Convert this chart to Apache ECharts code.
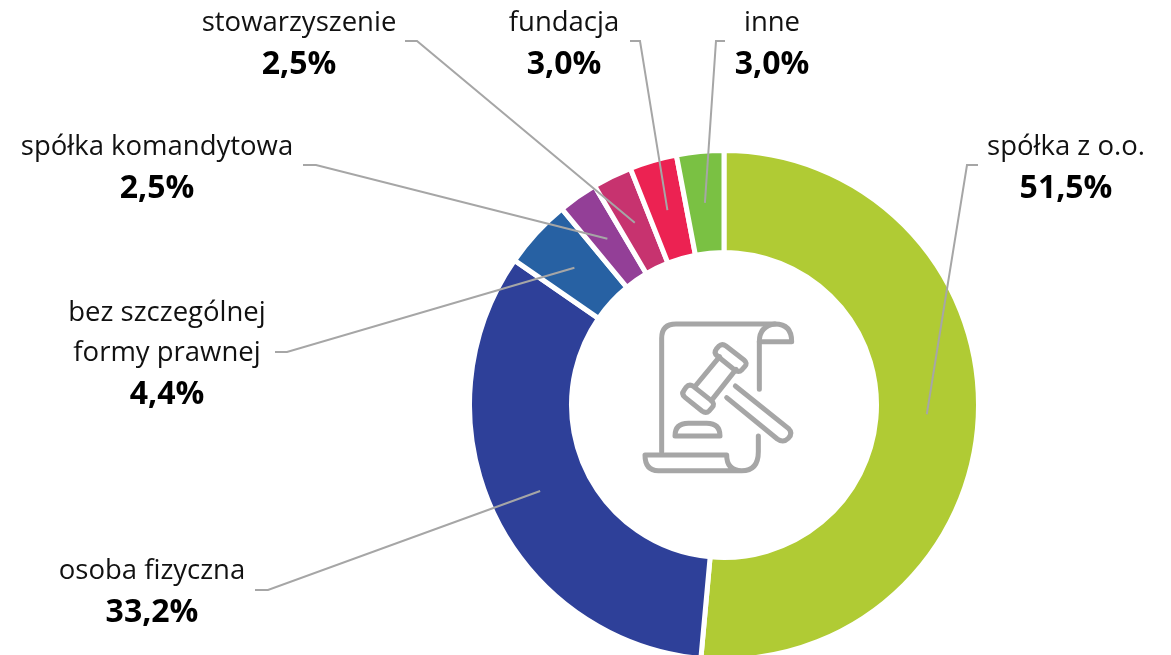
<!DOCTYPE html>
<html>
<head>
<meta charset="utf-8">
<title>Forma prawna</title>
<script src="https://cdn.jsdelivr.net/npm/echarts@6/dist/echarts.min.js"></script>
<style>
  html, body { margin: 0; padding: 0; background: #fff; overflow: hidden; }
  #chart { width: 1171px; height: 655px; }
</style>
</head>
<body>
<div id="chart"></div>
<script>
const categories = ['spółka z o.o.', 'osoba fizyczna', 'bez szczególnej\nformy prawnej', 'spółka komandytowa', 'stowarzyszenie', 'fundacja', 'inne']
const values = [51.5, 33.2, 4.4, 2.5, 2.5, 3.0, 3.0]
const valueLabels = ['51,5%', '33,2%', '4,4%', '2,5%', '2,5%', '3,0%', '3,0%']
const colors = ['#B0CB34', '#2E4099', '#2761A3', '#933F97', '#C7336F', '#EC2252', '#7AC143']

// layout: centre, where each label sits, and the elbow of each leader line
const cx = 724
const cy = 405
const anchorRadius = 203
const labelCenters = [[1066, 169], [152, 593], [167, 355], [157, 169], [299, 45], [564, 45], [772, 45]]
const leaderElbows = [[[967, 165], [978, 165]], [[268, 590], [255, 590]], [[287, 352], [275, 352]], [[316, 165], [303, 165]], [[417, 41], [405, 41]], [[640, 41], [630, 41]], [[716, 41], [725, 41]]]

const total = values.reduce((a, b) => a + b, 0)

// leader lines start in the middle of the ring, at the slice's mid angle
function ringPoint(idx) {
  let before = 0
  for (let i = 0; i < idx; i++) before += values[i]
  const angle = (before + values[idx] / 2) / total * Math.PI * 2
  return [cx + anchorRadius * Math.sin(angle), cy - anchorRadius * Math.cos(angle)]
}

const chart = echarts.init(document.getElementById('chart'), null, { renderer: 'canvas' })

const iconStyle = { fill: null, stroke: '#A6A6A6', lineWidth: 15, lineCap: 'round', lineJoin: 'round' }
const iconPaths = [
  'M125 455 V115 Q125 72 168 72 H465 Q515 72 515 125 H418',
  'M465 72 Q418 78 418 125 V268',
  'M415 408 V455 Q415 512 365 512 H115 Q75 512 75 465 H320 Q320 512 365 512',
  'M318 138 L372 180 Q384 190 374 200 L366 209 Q356 219 344 210 L292 168 Q280 158 289 147 L296 139 Q306 129 318 138 Z',
  'M220 259 L274 302 Q286 312 276 323 L268 332 Q258 342 246 333 L195 292 Q183 282 192 271 L198 262 Q208 250 220 259 Z',
  'M299 170 L226 258',
  'M348 208 L274 302',
  'M346 258 L505 385 Q520 400 505 415 Q490 430 472 417 L320 293',
  'M165 408 Q165 370 205 370 H260 Q300 370 300 408 Z'
]

const option = {
  backgroundColor: '#fff',
  animation: false,
  textStyle: { fontFamily: '"Open Sans", sans-serif' },
  color: colors,
  series: [{
    type: 'pie',
    center: [cx, cy],
    radius: [152.5, 254.5],
    startAngle: 90,
    clockwise: true,
    avoidLabelOverlap: false,
    itemStyle: { borderColor: '#fff', borderWidth: 5 },
    data: categories.map((name, i) => ({ name: name, value: values[i] })),
    label: {
      show: true,
      position: 'outside',
      align: 'center',
      formatter: function (p) {
        const lines = p.name.split('\n').map(s => '{n|' + s + '}')
        return lines.join('\n') + '\n{v|' + valueLabels[p.dataIndex] + '}'
      },
      rich: {
        n: { fontFamily: '"Open Sans", sans-serif', fontSize: 27.5, lineHeight: 40, color: '#111', align: 'center' },
        v: { fontFamily: '"Open Sans", sans-serif', fontSize: 32, fontWeight: 'bold', lineHeight: 43, color: '#000', align: 'center' }
      }
    },
    labelLine: { show: false },
    labelLayout: function (p) {
      const i = p.dataIndex
      return {
        x: labelCenters[i][0],
        y: labelCenters[i][1],
        align: 'center',
        verticalAlign: 'middle',
        hideOverlap: false
      }
    },
    emphasis: { disabled: true }
  }, {
    // leader lines, on top of the ring
    type: 'custom',
    coordinateSystem: 'none',
    silent: true,
    z: 5,
    data: values,
    renderItem: function (params) {
      const i = params.dataIndex
      return {
        type: 'polyline',
        shape: { points: [ringPoint(i), leaderElbows[i][0], leaderElbows[i][1]] },
        style: { fill: null, stroke: '#A6A6A6', lineWidth: 2 }
      }
    }
  }, {
    // gavel icon in the hole of the ring
    type: 'custom',
    coordinateSystem: 'none',
    silent: true,
    data: [0],
    renderItem: function () {
      return {
        type: 'group',
        x: 620,
        y: 300,
        scaleX: 1 / 3,
        scaleY: 1 / 3,
        children: iconPaths.map(d => ({
          type: 'path',
          shape: { pathData: d },
          style: iconStyle
        }))
      }
    }
  }]
}

chart.setOption(option)
</script>
</body>
</html>
